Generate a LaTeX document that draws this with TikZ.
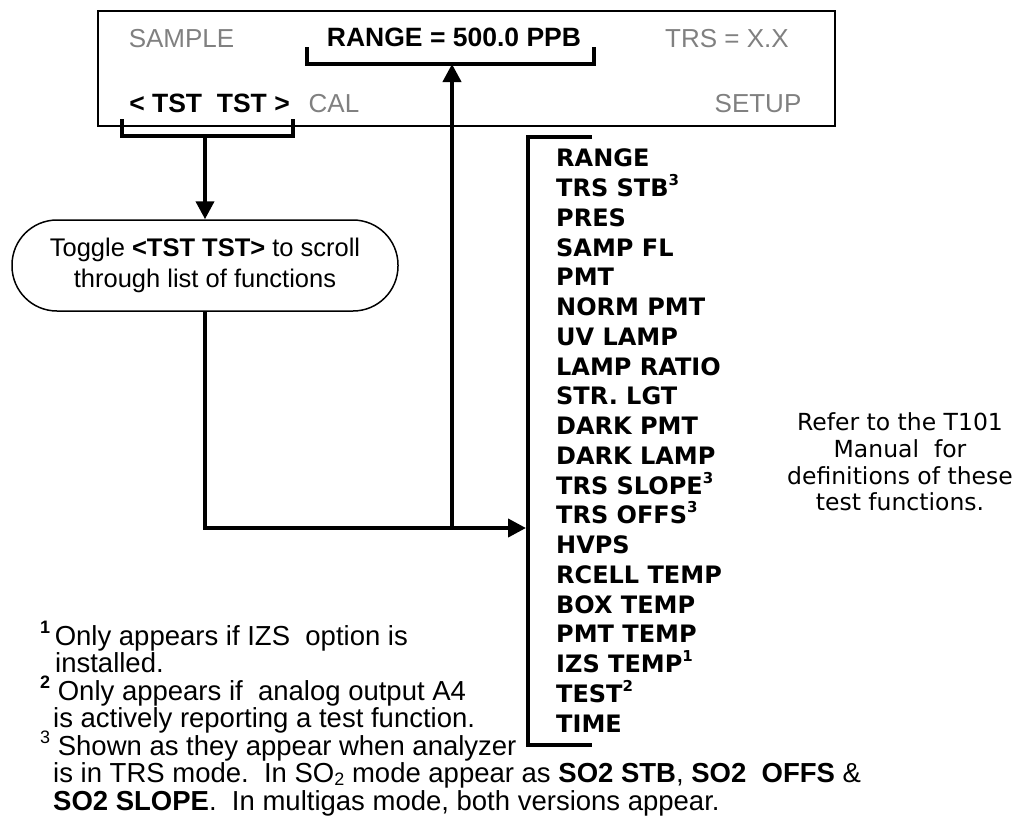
\documentclass[tikz,border=0pt]{standalone}
\usepackage{fontspec}
\setmainfont{Liberation Sans}
\newfontfamily\listfont{DejaVu Sans}
\usepackage{xcolor}
\definecolor{dimtext}{HTML}{808080}
\definecolor{ink}{HTML}{000000}
\usetikzlibrary{arrows.meta}
\newcommand{\fsup}[1]{\raisebox{0.42em}{\fontsize{18}{18}\selectfont #1}}
\newcommand{\fsub}[1]{\raisebox{-0.12em}{\fontsize{18}{18}\selectfont #1}}
\newcommand{\lsup}[1]{\raisebox{0.45em}{\fontsize{15}{15}\selectfont #1}}

\begin{document}
\begin{tikzpicture}[x=1pt,y=-1pt,
  lcd/.style={text=dimtext,inner sep=0pt,text height=18.5pt,text depth=0pt,
    font=\fontsize{26}{30}\selectfont},
  lcdkey/.style={text=ink,inner sep=0pt,text height=18.5pt,text depth=0pt,
    font=\fontsize{26.5}{30}\selectfont\bfseries},
  item/.style={anchor=west,inner sep=0pt,text height=17.5pt,text depth=0pt,
    font=\listfont\bfseries\fontsize{24}{28}\selectfont},
  fn/.style={anchor=base west,inner sep=0pt,text depth=0pt,font=\fontsize{27.5}{28}\selectfont},
  brk/.style={line width=4pt},
  arr/.style={line width=4pt,-{Triangle[length=18pt,width=18pt]}}]
  \useasboundingbox (0,0) rectangle (1017,833);
  % front panel display
  \node[draw,line width=1.5pt,minimum width=737,minimum height=115,inner sep=0pt] (disp) at (466.5,68.5) {};
  \node[lcd] (sample) at (181.5,38) {SAMPLE};
  \node[lcdkey] (range) at (454,37) {RANGE = 500.0 PPB};
  \node[lcd] (trs) at (727,38) {TRS = X.X};
  \node[lcdkey] (tst) at (209.5,103) {<~TST~~TST~>};
  \node[lcd] (cal) at (334,103) {CAL};
  \node[lcd] (setup) at (758,103) {SETUP};
  \draw[brk] (307,47) |- (594,64) -- (594,47);
  \draw[brk] (122,119) |- (293,136) -- (293,119);
  \coordinate (rbr) at (452,64);
  \coordinate (tbr) at (205,136);
  % toggle note
  \node[draw,line width=1.5pt,rounded corners=45,minimum width=386,minimum height=91,
    align=center,font=\fontsize{25.5}{31}\selectfont] (toggle) at (205,265.5)
    {Toggle \textbf{<TST TST>} to scroll\\through list of functions};
  \coordinate (jn) at (452,528);
  \coordinate (lst) at (526,528);
  \draw[arr] (tbr) -- (toggle.north);
  \draw[arr] (toggle.south) |- (lst);
  \draw[arr] (jn) -- (rbr);
  % list of test functions
  \draw[brk] (592,137) -| (528,745) -- (592,745);
  \node[item] (it0) at (556,158) {RANGE};
  \node[item] (it1) at (556,187.75) {TRS STB\lsup{3}};
  \node[item] (it2) at (556,217.5) {PRES};
  \node[item] (it3) at (556,247.25) {SAMP FL};
  \node[item] (it4) at (556,277) {PMT};
  \node[item] (it5) at (556,306.75) {NORM PMT};
  \node[item] (it6) at (556,336.5) {UV LAMP};
  \node[item] (it7) at (556,366.25) {LAMP RATIO};
  \node[item] (it8) at (556,396) {STR. LGT};
  \node[item] (it9) at (556,425.75) {DARK PMT};
  \node[item] (it10) at (556,455.5) {DARK LAMP};
  \node[item] (it11) at (556,485.25) {TRS SLOPE\lsup{3}};
  \node[item] (it12) at (556,515) {TRS OFFS\lsup{3}};
  \node[item] (it13) at (556,544.75) {HVPS};
  \node[item] (it14) at (556,574.5) {RCELL TEMP};
  \node[item] (it15) at (556,604.25) {BOX TEMP};
  \node[item] (it16) at (556,634) {PMT TEMP};
  \node[item] (it17) at (556,663.75) {IZS TEMP\lsup{1}};
  \node[item] (it18) at (556,693.5) {TEST\lsup{2}};
  \node[item] (it19) at (556,723.25) {TIME};
  \node[align=center,inner sep=0pt,font=\listfont\fontsize{23.5}{26.7}\selectfont] (note) at (900,462)
    {Refer to the T101\\Manual\ \ for\\definitions of these\\test functions.};
  % footnotes
  \node[fn] (fn1a) at (40,645) {\fsup{\textbf{1}}\,Only appears if IZS\ \ option is};
  \node[fn] (fn1b) at (55,672.5) {installed.};
  \node[fn] (fn2a) at (40,700) {\fsup{\textbf{2}} Only appears if\ \ analog output A4};
  \node[fn] (fn2b) at (53,727.5) {is actively reporting a test function.};
  \node[fn] (fn3a) at (40,755) {\fsup{3} Shown as they appear when analyzer};
  \node[fn] (fn3b) at (53,782.5) {is in TRS mode.\ \ In SO\fsub{2} mode appear as \textbf{SO2 STB}, \textbf{SO2\ \ OFFS} \&};
  \node[fn] (fn3c) at (53,810) {\textbf{SO2 SLOPE}.\ \ In multigas mode, both versions appear.};
\end{tikzpicture}
\end{document}
